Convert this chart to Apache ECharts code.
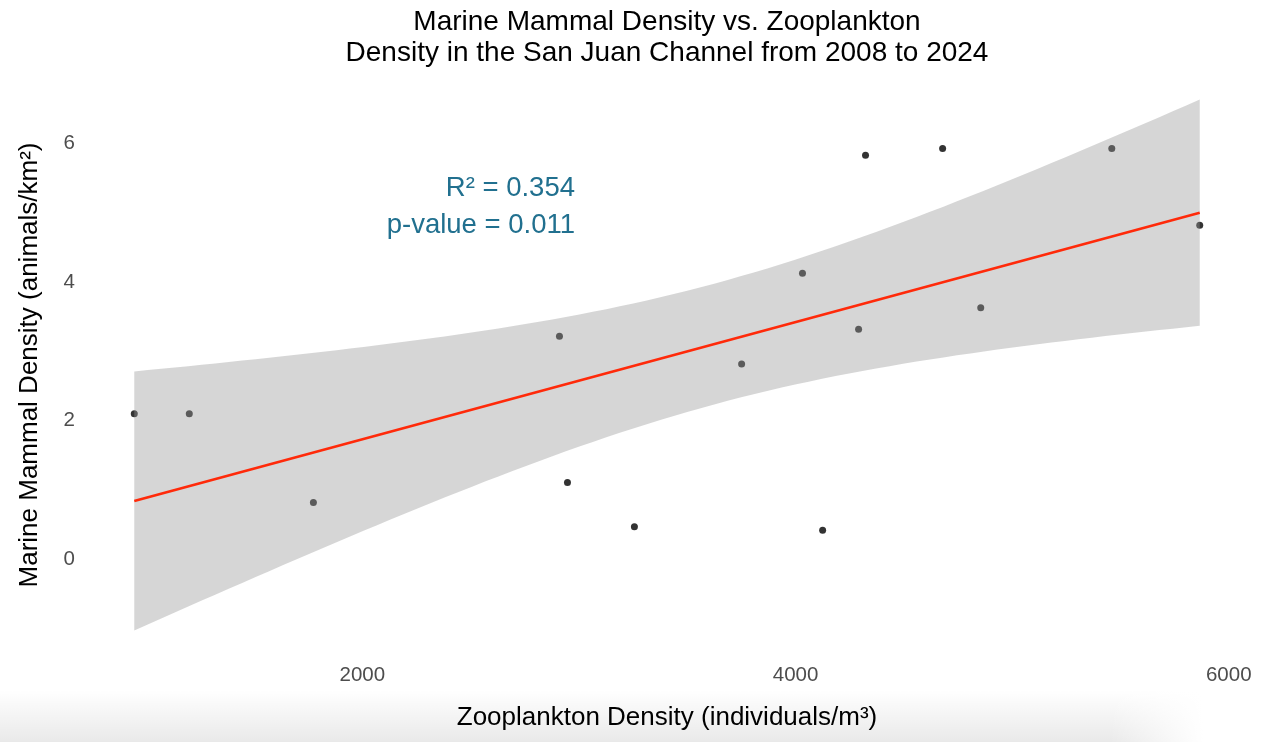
<!DOCTYPE html>
<html>
<head>
<meta charset="utf-8">
<script src="https://cdn.jsdelivr.net/npm/echarts@6/dist/echarts.min.js"></script>
<style>
  html, body { margin: 0; padding: 0; background: #ffffff; }
  #chart { width: 1265px; height: 742px; }
</style>
</head>
<body>
<div id="chart"></div>
<script>
// Annual observations, San Juan Channel 2008-2024
const zooplanktonDensity = [947, 1201, 1774, 2910, 2947, 3256, 3751, 4032, 4125, 4291, 4323, 4679, 4855, 5460, 5866];
const mammalDensity      = [2.1, 2.1, 0.82, 3.22, 1.11, 0.47, 2.82, 4.13, 0.42, 3.32, 5.83, 5.93, 3.63, 5.93, 4.82];

const xTickValues = [2000, 4000, 6000];
const yTickValues = [0, 2, 4, 6];
const statLabels = ['R\u00B2 = 0.354', 'p-value = 0.011'];

const FONT = 'Liberation Sans, Arial, Helvetica, sans-serif';

// Ordinary least squares fit with a 95% confidence band for the mean
const n = zooplanktonDensity.length;
const meanX = zooplanktonDensity.reduce((a, b) => a + b, 0) / n;
const meanY = mammalDensity.reduce((a, b) => a + b, 0) / n;
let sxx = 0, sxy = 0;
for (let i = 0; i < n; i++) {
  const dx = zooplanktonDensity[i] - meanX;
  sxx += dx * dx;
  sxy += dx * (mammalDensity[i] - meanY);
}
const slope = sxy / sxx;
const intercept = meanY - slope * meanX;
const predict = x => intercept + slope * x;
let sse = 0;
for (let i = 0; i < n; i++) {
  const r = mammalDensity[i] - predict(zooplanktonDensity[i]);
  sse += r * r;
}
const sigma = Math.sqrt(sse / (n - 2));
const T_CRIT = 2.160369; // Student t, 0.975 quantile, 13 degrees of freedom

const xMin = Math.min(...zooplanktonDensity);
const xMax = Math.max(...zooplanktonDensity);
const SAMPLES = 80;
const bandUpper = [], bandLower = [];
for (let k = 0; k < SAMPLES; k++) {
  const x = xMin + (xMax - xMin) * k / (SAMPLES - 1);
  const se = sigma * Math.sqrt(1 / n + (x - meanX) * (x - meanX) / sxx);
  bandUpper.push([x, predict(x) + T_CRIT * se]);
  bandLower.push([x, predict(x) - T_CRIT * se]);
}
const fitLine = [[xMin, predict(xMin)], [xMax, predict(xMax)]];

// Axis ranges: data and band extent padded by 5% on each side
const xPad = (xMax - xMin) * 0.05;
const allY = mammalDensity.concat(bandUpper.map(p => p[1]), bandLower.map(p => p[1]));
const yLo = Math.min(...allY), yHi = Math.max(...allY);
const yPad = (yHi - yLo) * 0.05;

const chart = echarts.init(document.getElementById('chart'), null, { renderer: 'canvas' });

chart.setOption({
  animation: false,
  backgroundColor: '#ffffff',
  textStyle: { fontFamily: FONT },
  title: {
    text: 'Marine Mammal Density vs. Zooplankton\nDensity in the San Juan Channel from 2008 to 2024',
    left: 667,
    top: 7,
    padding: 0,
    textAlign: 'center',
    textStyle: { fontFamily: FONT, fontSize: 28, fontWeight: 'normal', color: '#000000', lineHeight: 31 }
  },
  grid: { left: 81, right: 12, top: 73, bottom: 85, outerBoundsMode: 'none' },
  xAxis: {
    type: 'value',
    min: xMin - xPad,
    max: xMax + xPad,
    name: 'Zooplankton Density (individuals/m\u00B3)',
    nameLocation: 'middle',
    nameGap: 48,
    nameTextStyle: { fontFamily: FONT, fontSize: 26, color: '#000000' },
    axisLine: { show: false },
    axisTick: { show: false },
    splitLine: { show: false },
    axisLabel: {
      customValues: xTickValues,
      formatter: v => String(v),
      fontFamily: FONT, fontSize: 20.5, color: '#4d4d4d', margin: 8
    }
  },
  yAxis: {
    type: 'value',
    min: yLo - yPad,
    max: yHi + yPad,
    name: 'Marine Mammal Density (animals/km\u00B2)',
    nameLocation: 'middle',
    nameGap: 38,
    nameTextStyle: { fontFamily: FONT, fontSize: 26, color: '#000000' },
    axisLine: { show: false },
    axisTick: { show: false },
    splitLine: { show: false },
    axisLabel: {
      customValues: yTickValues,
      formatter: v => String(v),
      fontFamily: FONT, fontSize: 20.5, color: '#4d4d4d', margin: 6
    }
  },
  graphic: [
    {
      type: 'rect', z: -10, silent: true,
      shape: { x: 0, y: 690, width: 1265, height: 52 },
      style: {
        fill: new echarts.graphic.LinearGradient(0, 0, 0, 1, [
          { offset: 0, color: 'rgba(0,0,0,0)' },
          { offset: 1, color: 'rgba(0,0,0,0.085)' }
        ])
      }
    },
    {
      type: 'rect', z: -9, silent: true,
      shape: { x: 1110, y: 690, width: 155, height: 52 },
      style: {
        fill: new echarts.graphic.LinearGradient(0, 0, 1, 0, [
          { offset: 0, color: 'rgba(255,255,255,0)' },
          { offset: 0.6, color: 'rgba(255,255,255,1)' },
          { offset: 1, color: 'rgba(255,255,255,1)' }
        ])
      }
    },
    {
      type: 'text', z: 100, silent: true,
      style: { text: statLabels[0], x: 575, y: 188, align: 'right', verticalAlign: 'middle',
               fontFamily: FONT, fontSize: 27.5, fill: '#21708f' }
    },
    {
      type: 'text', z: 100, silent: true,
      style: { text: statLabels[1], x: 575, y: 225, align: 'right', verticalAlign: 'middle',
               fontFamily: FONT, fontSize: 27.5, fill: '#21708f' }
    }
  ],
  series: [
    {
      name: 'Observations',
      type: 'scatter',
      z: 2,
      symbol: 'circle',
      symbolSize: 7,
      itemStyle: { color: '#000000' },
      data: zooplanktonDensity.map((x, i) => [x, mammalDensity[i]])
    },
    {
      name: 'Confidence band',
      type: 'custom',
      z: 3,
      silent: true,
      data: [[xMin, 0]],
      renderItem: (params, api) => {
        const pts = bandUpper.map(p => api.coord(p))
          .concat(bandLower.slice().reverse().map(p => api.coord(p)));
        return {
          type: 'polygon',
          shape: { points: pts },
          style: { fill: 'rgba(153,153,153,0.4)' }
        };
      }
    },
    {
      name: 'Linear fit',
      type: 'line',
      z: 4,
      symbol: 'none',
      lineStyle: { color: '#ff2a0a', width: 2.6 },
      data: fitLine
    }
  ]
});
</script>
</body>
</html>
